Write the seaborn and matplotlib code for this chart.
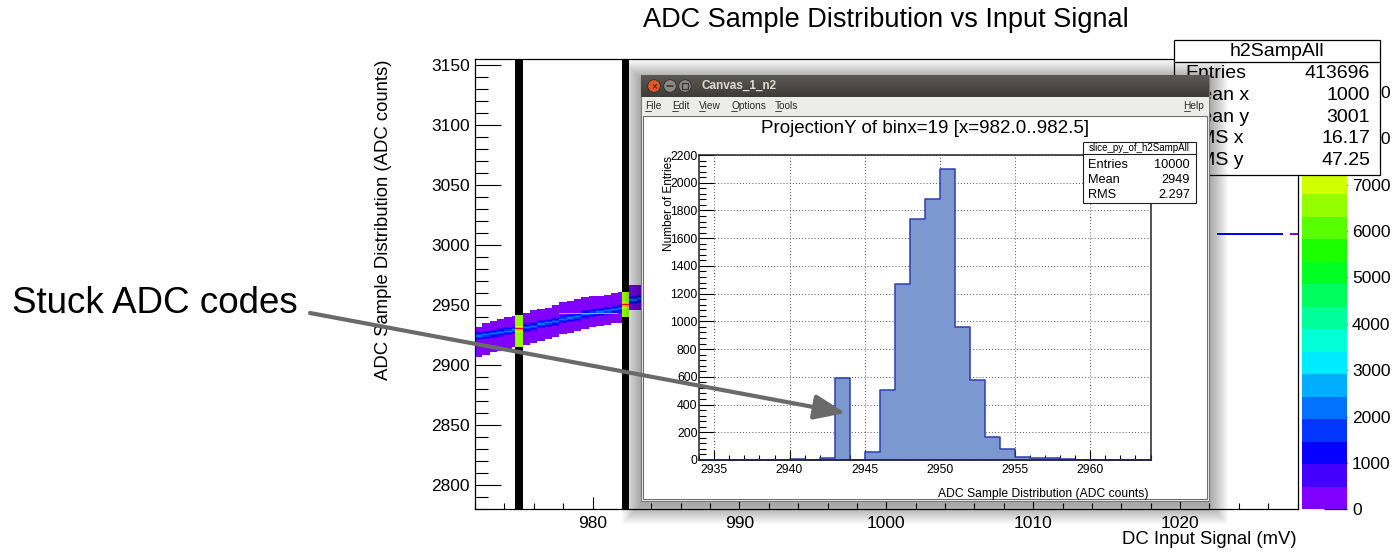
import numpy as np
import pandas as pd
import matplotlib
matplotlib.use("Agg")
import matplotlib.pyplot as plt
import matplotlib.collections as mcoll
import seaborn as sns
from matplotlib.colors import ListedColormap, hsv_to_rgb
from matplotlib.patches import Rectangle, Circle
from matplotlib.ticker import MultipleLocator

sns.set_theme(style="white")
plt.rcParams['font.family'] = ['Liberation Sans', 'DejaVu Sans']
plt.rcParams.update({'axes.edgecolor': 'black', 'xtick.color': 'black',
                     'ytick.color': 'black', 'text.color': 'black',
                     'axes.labelcolor': 'black'})

# ---------------- data: main 2D histogram (visible part) ----------------
col_edges = [972.0, 972.5, 973.0, 973.5, 974.0, 974.5, 974.75, 975.25, 975.75,
             976.25, 976.75, 977.25, 977.75, 978.25, 978.75, 979.25, 979.75,
             980.25, 980.75, 981.25, 981.75, 982.0, 982.5, 983.0, 983.5]
col_top = [2932, 2935, 2937, 2939, 2940, 2941, 2942, 2944, 2946, 2947, 2948, 2950,
           2953, 2954, 2955, 2957, 2958, 2958, 2959, 2960, 2961, 2961, 2967, 2967]
col_bottom = [2907, 2909, 2911, 2912, 2914, 2915, 2915, 2917, 2919, 2920, 2922, 2924,
              2926, 2927, 2929, 2930, 2932, 2933, 2934, 2935, 2935, 2940, 2946, 2946]
col_core = [2924, 2925, 2926, 2927, 2928, 2929, 2930, 2931, 2932, 2934, 2935, 2936,
            2938, 2939, 2940, 2942, 2943, 2944, 2945, 2946, 2947, 2950, 2954, 2955]
col_selected = [0, 0, 0, 0, 0, 0, 1, 0, 0, 0, 0, 0,
                0, 0, 0, 0, 0, 0, 0, 0, 0, 1, 0, 0]
body_count = 250
core_profile = [600, 1000, 1500, 2300, 1500, 1000, 600]     # offsets -3..+3
sel_body_count = 6500
sel_profile = [7200, 8100, 9300, 8100, 7200]               # offsets -2..+2
stuck_code = 2943
stuck_cols = [12, 13, 14, 15, 16, 17, 18, 19]
stuck_count = 4100
line_code = 3009
line_x0 = [1022.5, 1027.5]
line_x1 = [1027.0, 1028.0]
line_count = [1000, 300]
selected_slices = [(974.75, 975.25), (982.0, 982.5)]

# ---------------- data: projection (slice) histogram ----------------
slice_left = list(range(2934, 2964))
slice_counts = [0, 0, 0, 0, 0, 0, 7, 0, 12, 595, 0, 58, 505, 1272, 1738, 1880,
                2097, 957, 575, 163, 79, 19, 12, 12, 7, 0, 0, 0, 0, 0]

main_stats_lab = ['Entries', 'Mean x', 'Mean y', 'RMS x', 'RMS y']
main_stats_val = ['413696', '1000', '3001', '16.17', '47.25']
slice_stats_lab = ['Entries', 'Mean', 'RMS']
slice_stats_val = ['10000', '2949', '2.297']
cbar_ticks = [0, 1000, 2000, 3000, 4000, 5000, 6000, 7000, 8000, 9000]
zmax = 9700
menu_items = [('File', 645), ('Edit', 672), ('View', 699), ('Options', 731), ('Tools', 775)]

# ---------------- build long-form cells ----------------
SUB = 0.25
xs, ys, ws = [], [], []
for k in range(len(col_top)):
    l, r = col_edges[k], col_edges[k + 1]
    subs = np.arange(l, r - 1e-9, SUB) + SUB / 2
    for y in range(col_bottom[k], col_top[k]):
        off = y - col_core[k]
        if col_selected[k]:
            w = sel_body_count
            if abs(off) <= 2:
                w = sel_profile[off + 2]
        else:
            w = body_count
            if abs(off) <= 3:
                w = core_profile[off + 3]
            if k in stuck_cols and y == stuck_code:
                w = stuck_count
        for xc in subs:
            xs.append(xc); ys.append(y + 0.5); ws.append(w)
for a, b, c in zip(line_x0, line_x1, line_count):
    for xc in np.arange(a, b - 1e-9, SUB) + SUB / 2:
        xs.append(xc); ys.append(line_code + 0.5); ws.append(c)
cells = pd.DataFrame({'mv': xs, 'adc': ys, 'n': np.array(ws, dtype=float)})

# ROOT-like palette (violet -> red), 20 levels
ncol = 20
cols = [hsv_to_rgb((270.0 / 360.0 * (1 - i / (ncol - 1)), 1.0, 1.0)) for i in range(ncol)]
cmap = ListedColormap(cols)

W, H = 1397, 559
fig = plt.figure(figsize=(W / 100, H / 100), dpi=100)
fig.patch.set_facecolor('white')


def frac(x0, y0, x1, y1):
    return [x0 / W, 1 - y1 / H, (x1 - x0) / W, (y1 - y0) / H]


def overlay(z):
    a = fig.add_axes([0, 0, 1, 1], zorder=z, label='ov%d' % z)
    a.set_xlim(0, W)
    a.set_ylim(H, 0)
    a.set_axis_off()
    return a


# ---------------- main axes ----------------
ax = fig.add_axes(frac(475, 59.3, 1297.5, 509.3), zorder=1)
ax.set_facecolor('white')
for (a, b) in selected_slices:
    ax.axvspan(a, b, color='black', zorder=0.5, lw=0)
xedges = np.arange(972.0, 1028.0 + SUB / 2, SUB)
yedges = np.arange(2780, 3156, 1)
sns.histplot(data=cells, x='mv', y='adc', weights='n', bins=[xedges, yedges],
             cmap=cmap, ax=ax, cbar=False)
mesh = [c for c in ax.collections if isinstance(c, mcoll.QuadMesh)][0]
mesh.set_cmap(cmap)
mesh.set_clim(0, zmax)
ax.set_xlim(972, 1028)
ax.set_ylim(2780, 3155)
ax.set_xlabel('')
ax.set_ylabel('')
ax.xaxis.set_major_locator(MultipleLocator(10))
ax.xaxis.set_minor_locator(MultipleLocator(2))
ax.yaxis.set_major_locator(MultipleLocator(50))
ax.yaxis.set_minor_locator(MultipleLocator(10))
ax.tick_params(axis='x', which='major', direction='in', length=9, width=0.8,
               labelsize=12.5, pad=5, bottom=True, top=False)
ax.tick_params(axis='x', which='minor', direction='in', length=4.2, width=0.8, bottom=True)
ax.tick_params(axis='y', which='major', direction='in', length=18.5, width=0.8,
               labelsize=12.5, pad=3.6, left=True, right=False)
ax.tick_params(axis='y', which='minor', direction='in', length=9.4, width=0.8, left=True)
for s in ax.spines.values():
    s.set_linewidth(0.9)
    s.set_color('black')

# ---------------- colorbar ----------------
cax = fig.add_axes(frac(1302, 59.3, 1347, 509.3), zorder=1)
cb = fig.colorbar(mesh, cax=cax, ticks=cbar_ticks)
cb.outline.set_visible(False)
cax.tick_params(axis='y', which='major', direction='in', length=16.5, width=0.9,
                labelsize=12.5, pad=3.6, right=True, left=False, colors='black')
cax.minorticks_off()

# ---------------- main stats box ----------------
ast = overlay(2)
ast.add_patch(Rectangle((1173.5, 40.2), 1380 - 1173.5, 175 - 40.2, fc='white',
                        ec='black', lw=0.9))
ast.plot([1173.5, 1380], [62.2, 62.2], color='black', lw=0.9)
ast.text(1277, 51, 'h2SampAll', fontsize=14, ha='center', va='center')
for i, (lab, val) in enumerate(zip(main_stats_lab, main_stats_val)):
    yy = 74 + i * 21.6
    ast.text(1185, yy, lab, fontsize=14, ha='left', va='center')
    ast.text(1370, yy, val, fontsize=14, ha='right', va='center')

# ---------------- inset window chrome ----------------
aw = overlay(3)
wx0, wy0, wx1, wy1 = 641, 75, 1209, 501
for d in range(1, 20):
    aw.add_patch(Rectangle((wx0 - d, wy0 - d + 4), (wx1 - wx0) + 2 * d,
                           (wy1 - wy0) + 2 * d, fc='black', ec='none', alpha=0.018))
aw.add_patch(Rectangle((wx0, wy0), wx1 - wx0, wy1 - wy0, fc='#f0efee', ec='#7a7a7a', lw=0.8))
grad = np.linspace(0, 1, 40)[:, None] * np.ones((1, 4))
top_c = np.array([0.36, 0.35, 0.33])
bot_c = np.array([0.24, 0.235, 0.22])
img = top_c[None, None, :] * (1 - grad[:, :, None]) + bot_c[None, None, :] * grad[:, :, None]
aw.imshow(img, extent=(wx0, wx1, 97, wy0), aspect='auto', interpolation='bilinear', zorder=2)
for cx, fc in [(654, '#e3582a'), (670, '#8b8984'), (685, '#8b8984')]:
    aw.add_patch(Circle((cx, 86), 6.3, fc=fc, ec='#2e2d2a', lw=0.6, zorder=3))
aw.text(654, 86.3, '×', fontsize=7.5, color='#3b1408', ha='center', va='center', zorder=4)
aw.plot([667, 673], [86, 86], color='#3a3936', lw=1.2, zorder=4)
aw.add_patch(Rectangle((682, 83), 6, 6, fc='none', ec='#3a3936', lw=0.9, zorder=4))
aw.text(701, 86, 'Canvas_1_n2', fontsize=8.5, fontweight='bold', color='#dfdbd2',
        ha='left', va='center', zorder=4)
aw.add_patch(Rectangle((wx0 + 0.5, 97), wx1 - wx0 - 1, 18, fc='#ececeb', ec='none', zorder=2))
for name, xx in menu_items:
    aw.text(xx, 106, name, fontsize=7.3, color='#2a2a2a', ha='left', va='center', zorder=4)
    aw.plot([xx, xx + 5.5], [111, 111], color='#2a2a2a', lw=0.6, zorder=4)
aw.text(1204, 106, 'Help', fontsize=7.3, color='#2a2a2a', ha='right', va='center', zorder=4)
aw.plot([1184, 1190], [111, 111], color='#2a2a2a', lw=0.6, zorder=4)
aw.add_patch(Rectangle((643, 115.5), 1207 - 643, 499 - 115.5, fc='white', ec='#6e6e6e',
                       lw=0.8, zorder=2))
aw.set_xlim(0, W)
aw.set_ylim(H, 0)

# ---------------- inset histogram (projection) ----------------
ax_in = fig.add_axes(frac(699.3, 155, 1150.5, 460), zorder=4)
ax_in.set_facecolor('white')
proj = pd.DataFrame({'adc': np.array(slice_left) + 0.5, 'n': np.array(slice_counts, dtype=float)})
sns.histplot(data=proj, x='adc', weights='n', binwidth=1,
             binrange=(slice_left[0], slice_left[-1] + 1),
             element='step', fill=True, facecolor='#7b98d0', edgecolor='#2f3fae',
             linewidth=1.1, ax=ax_in)
ax_in.set_xlim(slice_left[0], slice_left[-1] + 1)
ax_in.set_ylim(0, 2200)
ax_in.set_xlabel('')
ax_in.set_ylabel('')
ax_in.xaxis.set_major_locator(MultipleLocator(5))
ax_in.xaxis.set_minor_locator(MultipleLocator(1))
ax_in.yaxis.set_major_locator(MultipleLocator(200))
ax_in.yaxis.set_minor_locator(MultipleLocator(40))
ax_in.set_axisbelow(True)
ax_in.grid(True, which='major', axis='both', linestyle=(0, (1, 2.2)), linewidth=0.7,
           color='#555555')
ax_in.tick_params(axis='x', which='major', direction='in', length=7.2, width=0.8,
                  labelsize=8.8, pad=3, bottom=True)
ax_in.tick_params(axis='x', which='minor', direction='in', length=3.6, width=0.8, bottom=True)
ax_in.tick_params(axis='y', which='major', direction='in', length=10.8, width=0.8,
                  labelsize=8.8, pad=1.3, left=True)
ax_in.tick_params(axis='y', which='minor', direction='in', length=5, width=0.8, left=True)
for s in ax_in.spines.values():
    s.set_linewidth(1.1)
    s.set_color('#222222')

# ---------------- top overlay: texts, inset stats, arrow ----------------
at = overlay(6)
at.text(886, 20, 'ADC Sample Distribution vs Input Signal', fontsize=19.5,
        ha='center', va='center')
at.text(384, 60, 'ADC Sample Distribution (ADC counts)', fontsize=13.3,
        rotation=90, ha='center', va='top')
at.text(1297, 540, 'DC Input Signal (mV)', fontsize=13.3, ha='right', va='center')
at.text(925.5, 128.3, 'ProjectionY of binx=19 [x=982.0..982.5]', fontsize=13.5,
        ha='center', va='center')
at.text(669.5, 156, 'Number of Entries', fontsize=8.5, rotation=90, ha='center', va='top')
at.text(1149, 494.5, 'ADC Sample Distribution (ADC counts)', fontsize=8.7,
        ha='right', va='center')
at.add_patch(Rectangle((1082.5, 141.7), 1195.6 - 1082.5, 202.7 - 141.7, fc='white',
                       ec='#222222', lw=0.8))
at.plot([1082.5, 1195.6], [154.3, 154.3], color='#222222', lw=0.8)
at.text(1139, 148, 'slice_py_of_h2SampAll', fontsize=7, ha='center', va='center')
for i, (lab, val) in enumerate(zip(slice_stats_lab, slice_stats_val)):
    yy = 165 + i * 15
    at.text(1088, yy, lab, fontsize=9.2, ha='left', va='center')
    at.text(1190, yy, val, fontsize=9.2, ha='right', va='center')
at.text(12, 313, 'Stuck ADC codes', fontsize=26.5, ha='left', va='baseline')
at.annotate('', xy=(845.5, 413), xytext=(310, 313), xycoords='data', textcoords='data',
            arrowprops=dict(arrowstyle='-|>,head_length=0.95,head_width=0.38',
                            mutation_scale=20, lw=3, color='#6a6a6a',
                            shrinkA=0, shrinkB=0))
at.set_xlim(0, W)
at.set_ylim(H, 0)

fig.savefig('out.png', dpi=100)
